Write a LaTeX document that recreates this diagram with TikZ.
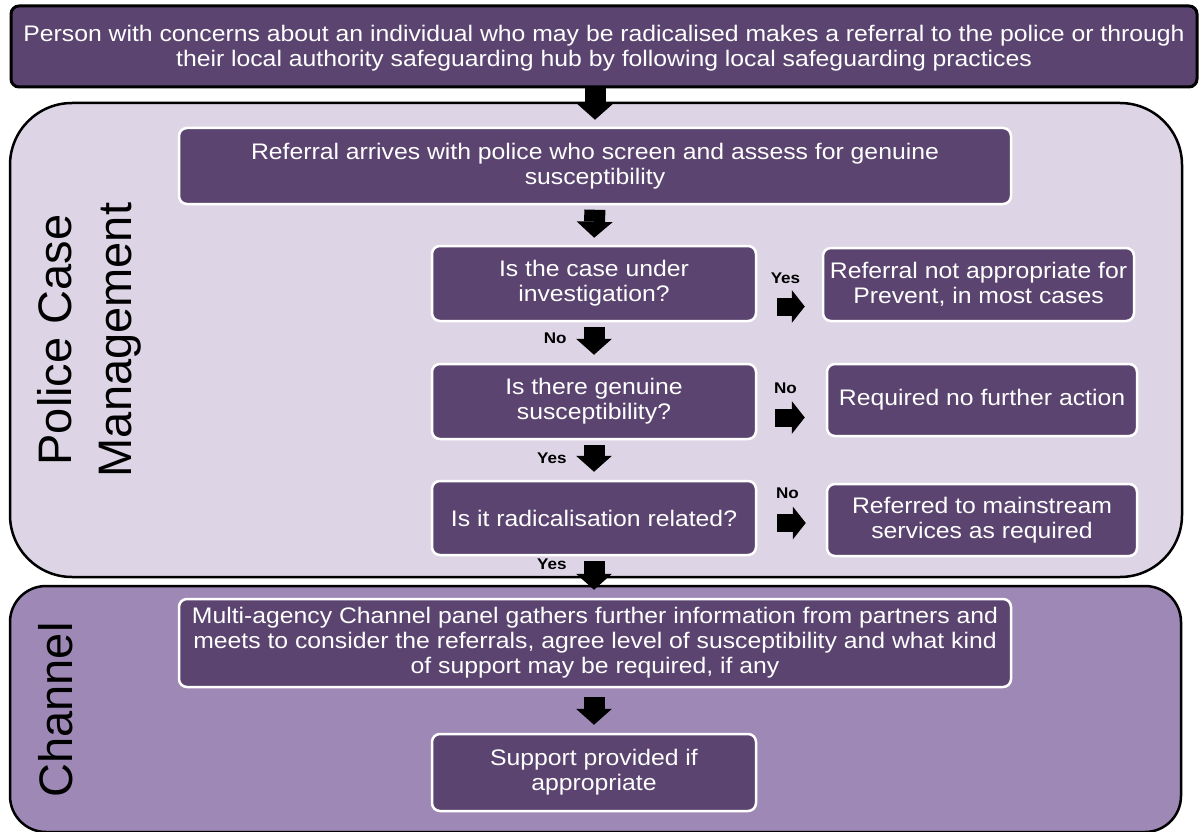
\documentclass[tikz,border=0pt]{standalone}
\usepackage{fontspec}
\setmainfont{Liberation Sans}
\newfontfamily\boxfont{Liberation Sans}[FakeStretch=1.1]
\usetikzlibrary{arrows.meta}
\definecolor{boxpurple}{HTML}{5B4570}
\definecolor{policebg}{HTML}{DDD5E6}
\definecolor{channelbg}{HTML}{9E88B5}
\begin{document}
\begin{tikzpicture}[x=1pt,y=-1pt,
  box/.style={draw=white,line width=2.5pt,fill=boxpurple,rounded corners=8pt,
    text=white,align=center,inner sep=0pt,font=\boxfont\fontsize{22.5}{25}\selectfont},
  downarr/.style={line width=21pt,-{Triangle[width=36pt,length=16pt,line width=0pt]}},
  rightarr/.style={line width=18pt,-{Triangle[width=33pt,length=13pt,line width=0pt]}},
  lbl/.style={font=\boxfont\fontsize{15.5}{16}\selectfont\bfseries,inner sep=0pt},
  sidelbl/.style={rotate=90,align=center,inner sep=0pt,font=\fontsize{47}{60}\selectfont}]
\useasboundingbox (0,0) rectangle (1202,832);
% the two areas
\draw[line width=2.5pt,fill=policebg,rounded corners=62pt] (10,103) rectangle (1182,577);
\draw[line width=2.5pt,fill=channelbg,rounded corners=36pt] (10,586) rectangle (1181,832);
\node[sidelbl] (policelbl) at (89,340) {Police Case\\Management};
\node[sidelbl] (chanlbl) at (56,710) {Channel};
% boxes
\node[box,draw=black,line width=3pt,minimum width=1186pt,minimum height=81pt] (person) at (604,46.5)
  {\rule{0pt}{19pt}Person with concerns about an individual who may be radicalised makes a referral to the police or through\\
   their local authority safeguarding hub by following local safeguarding practices};
\node[box,minimum width=832pt,minimum height=76pt] (ref) at (595,166)
  {Referral arrives with police who screen and assess for genuine\\susceptibility};
\node[box,minimum width=324pt,minimum height=75pt] (q1) at (594,283.5) {Is the case under\\investigation?};
\node[box,minimum width=324pt,minimum height=75pt] (q2) at (594,401.5) {Is there genuine\\susceptibility?};
\node[box,minimum width=324pt,minimum height=74pt] (q3) at (594,518) {Is it radicalisation related?};
\node[box,minimum width=311pt,minimum height=73pt] (r1) at (978.5,284.5) {Referral not appropriate for\\Prevent, in most cases};
\node[box,minimum width=310pt,minimum height=72pt] (r2) at (982,400) {Required no further action};
\node[box,minimum width=310pt,minimum height=72pt] (r3) at (982,520) {Referred to mainstream\\services as required};
\node[box,minimum width=832pt,minimum height=88pt] (chan) at (595,643)
  {Multi-agency Channel panel gathers further information from partners and\\
   meets to consider the referrals, agree level of susceptibility and what kind\\
   of support may be required, if any};
\node[box,minimum width=324pt,minimum height=77pt] (sup) at (594,772.5) {Support provided if\\appropriate};
% arrows down
\draw[downarr,shorten >=7pt] (ref.north |- person.south) -- (ref.north);
\draw[downarr,shorten <=5pt,shorten >=7pt] (ref.south |- q1.north) ++(0,-40) -- (q1.north);
\draw[downarr,shorten <=5pt,shorten >=8pt] (q1.south) -- (q2.north)
  node[lbl,pos=0.4,left=17pt] {No};
\draw[downarr,shorten <=5pt,shorten >=8pt] (q2.south) -- (q3.north)
  node[lbl,pos=0.45,left=17pt] {Yes};
\draw[downarr,shorten <=5pt,shorten >=8pt] (q3.south) -- (q3.south |- chan.north)
  node[lbl,pos=0.2,left=17pt] {Yes};
\draw[downarr,shorten <=9pt,shorten >=8pt] (q3.south |- chan.south) -- (sup.north);
% arrows right
\draw[rightarr,shorten <=20pt,shorten >=17pt] ([yshift=-23pt]q1.east) -- ([yshift=-23pt]q1.east -| r1.west)
  node[lbl,midway,above=14pt,xshift=-4pt] {Yes};
\draw[rightarr,shorten <=18pt,shorten >=21pt] ([yshift=-16pt]q2.east) -- ([yshift=-16pt]q2.east -| r2.west)
  node[lbl,midway,above=15pt,xshift=-6pt] {No};
\draw[rightarr,shorten <=20pt,shorten >=20pt] ([yshift=-5pt]q3.east) -- ([yshift=-5pt]q3.east -| r3.west)
  node[lbl,midway,above=15pt,xshift=-4pt] {No};
\end{tikzpicture}
\end{document}
